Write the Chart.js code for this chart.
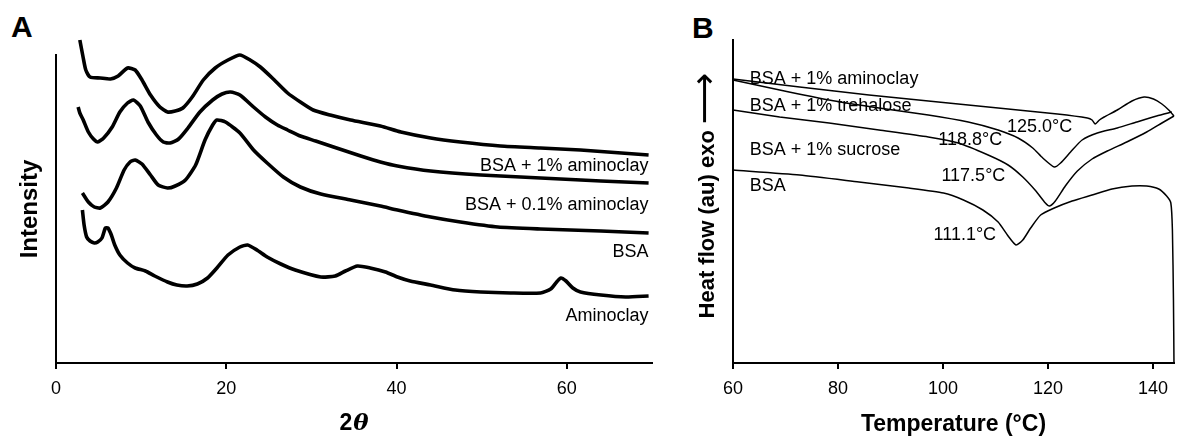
<!DOCTYPE html>
<html>
<head>
<meta charset="utf-8">
<script src="https://cdn.jsdelivr.net/npm/chart.js@4.4.1/dist/chart.umd.min.js"></script>
<style>
  body { margin: 0; background: #fff; width: 1177px; height: 436px; position: relative; overflow: hidden; }
  .panel { position: absolute; top: 0; height: 436px; }
  .tag { position: absolute; font: bold 30px "Liberation Sans", Arial, sans-serif; line-height: 30px; color: #000; }
</style>
</head>
<body>
<div class="tag" style="left:11px; top:12px;">A</div>
<div class="tag" style="left:692px; top:13px;">B</div>
<div class="panel" style="left:0; width:665px;"><canvas id="xrdChart"></canvas></div>
<div class="panel" style="left:680px; width:497px;"><canvas id="dscChart"></canvas></div>
<script>
// Panel A - XRD patterns, [2theta, intensity (au)]
const xrdAmino1 = [[2.8,323],[3.2,305],[3.5,293],[4.0,286],[5.2,285],[6.4,284],[7.3,287],[8.4,295],[9.3,293],[10.1,283],[11.1,268],[12.2,256],[13.1,251],[14.0,252],[14.9,255],[16.0,266],[17.3,283],[18.7,295],[20.2,303],[21.6,308],[22.8,303],[24.0,296],[25.4,285],[27.2,270],[28.7,261],[30.2,253],[32.2,248],[34.6,243],[38.1,237],[40.5,231],[44.0,225],[47.5,221],[52.2,217],[56.9,215],[61.6,213],[66.4,210],[69.6,208]];
const xrdAmino01 = [[2.6,256],[2.8,250],[3.2,243],[3.8,231],[4.4,224],[4.9,221],[5.6,225],[6.6,236],[7.5,251],[8.4,260],[9.1,263],[9.9,257],[10.8,241],[11.8,228],[12.6,221],[13.4,220],[14.4,224],[15.5,235],[16.9,251],[18.4,263],[19.5,269],[20.5,271],[21.6,268],[23.2,256],[24.6,246],[26.0,238],[27.2,233],[28.7,227],[30.5,222],[32.6,216],[35.8,207],[38.1,201],[40.1,197],[44.0,192],[49.9,188],[56.9,185],[64.0,182],[69.6,180]];
const xrdBsa = [[3.1,170],[3.8,161],[4.5,156],[5.2,155],[6.1,161],[7.1,175],[8.0,193],[8.7,201],[9.3,203],[10.1,199],[11.1,188],[12.0,178],[13.1,175],[14.0,177],[15.2,183],[16.4,198],[17.5,223],[18.4,238],[18.9,243],[19.9,241],[21.6,230],[23.2,213],[24.8,200],[26.7,186],[28.7,176],[31.1,169],[34.6,163],[38.1,157],[40.1,153],[44.0,146],[47.5,141],[51.9,136],[56.9,134],[64.0,132],[69.6,130]];
const xrdAminoclay = [[3.1,153],[3.3,138],[3.6,126],[4.0,122],[4.5,120],[4.9,121],[5.4,125],[5.8,135],[6.1,135],[6.5,128],[6.9,118],[7.5,108],[8.4,100],[9.3,95],[10.5,92],[11.6,87],[13.1,81],[14.2,78],[15.4,77],[16.6,79],[17.8,85],[18.9,95],[20.2,108],[21.6,116],[22.5,118],[23.6,113],[24.8,106],[26.4,99],[28.1,93],[31.1,86],[32.8,87],[34.0,92],[35.4,97],[36.9,95],[38.7,91],[40.1,86],[41.6,82],[44.0,78],[46.9,73],[49.9,71],[53.4,70],[56.9,70],[58.1,74],[58.8,81],[59.3,85],[59.9,82],[60.7,75],[61.6,71],[64.0,68],[66.9,66],[69.6,67]];
const xrdNames = ['BSA + 1% aminoclay', 'BSA + 0.1% aminoclay', 'BSA', 'Aminoclay'];
const xrdTicks = [0, 20, 40, 60];

// Panel B - DSC thermograms, [temperature (C), heat flow (au)]
const dscAminoclay = [[60,284],[72.7,276],[85.9,268],[99.1,261],[112.4,254],[121.8,249],[127.5,245],[128.4,243],[129.0,239],[129.8,243],[130.7,246],[133.2,253],[136.0,262],[138.3,266],[140.1,264],[141.7,259],[143.0,253],[144.0,247]];
const dscTrehalose = [[60,283],[68.9,273],[78.3,263],[87.8,255],[97.2,248],[104.8,241],[110.5,233],[114.3,225],[117.1,215],[119.0,205],[121.2,196],[122.4,200],[124.3,211],[126.5,223],[129.4,230],[133.2,235],[136.9,241],[140.7,247],[143.6,251]];
const dscSucrose = [[60,253],[68.9,246],[78.3,240],[87.8,233],[97.2,226],[102.9,220],[108.6,208],[112.4,198],[115.2,186],[117.7,172],[119.5,160],[120.3,157],[121.4,162],[123.3,177],[125.6,192],[128.4,204],[131.3,212],[135.0,221],[138.8,231],[141.7,240],[144.0,247]];
const dscBsa = [[60,193],[72.7,188],[84.0,181],[93.5,175],[100.1,170],[103.9,163],[107.6,153],[110.5,141],[112.4,127],[113.9,118],[115.2,123],[116.7,135],[118.6,148],[121.2,155],[124.6,162],[128.4,168],[132.2,174],[136.0,177],[138.8,177],[141.1,174],[142.6,167],[143.4,160],[143.7,133],[143.9,63],[144.0,0]];
const dscNames = ['BSA + 1% aminoclay', 'BSA + 1% trehalose', 'BSA + 1% sucrose', 'BSA'];
const dscPeaks = ['125.0°C', '118.8°C', '117.5°C', '111.1°C'];
const dscTicks = [60, 80, 100, 120, 140];

const FONT = '"Liberation Sans", Arial, sans-serif';
const toXY = arr => arr.map(p => ({ x: p[0], y: p[1] }));

// draws the text labels next to the curves, in data coordinates
const curveLabels = {
    id: 'curveLabels',
    afterDatasetsDraw(chart, args, opts) {
        const { ctx, scales: { x, y } } = chart;
        ctx.save();
        ctx.font = '18px ' + FONT;
        ctx.fillStyle = '#000';
        ctx.textBaseline = 'middle';
        opts.items.forEach(it => {
            ctx.textAlign = it.align;
            ctx.fillText(it.text, x.getPixelForValue(it.x), y.getPixelForValue(it.y));
        });
        ctx.restore();
    }
};

// axis title made of pieces in different fonts (italic theta, long arrow)
const mixedTitle = {
    id: 'mixedTitle',
    afterDraw(chart, args, opts) {
        if (!opts.parts) return;
        const { ctx, chartArea } = chart;
        ctx.save();
        ctx.fillStyle = '#000';
        ctx.textBaseline = 'middle';
        ctx.textAlign = 'left';
        if (opts.axis === 'x') {
            ctx.translate((chartArea.left + chartArea.right) / 2, opts.offset);
        } else {
            ctx.translate(opts.offset, (chartArea.top + chartArea.bottom) / 2);
            ctx.rotate(-Math.PI / 2);
        }
        const widths = opts.parts.map(p => { ctx.font = p.font; return ctx.measureText(p.text).width; });
        const total = widths.reduce((a, b) => a + b, 0) + (opts.parts.length - 1) * opts.gap;
        let pos = -total / 2 + (opts.shift || 0);
        opts.parts.forEach((p, i) => {
            ctx.font = p.font;
            ctx.fillText(p.text, pos, p.dy || 0);
            pos += widths[i] + opts.gap;
        });
        ctx.restore();
    }
};

function lineSet(data, width) {
    return {
        data: toXY(data),
        borderColor: '#000',
        borderWidth: width,
        pointRadius: 0,
        tension: 0.2,
        fill: false,
        clip: false
    };
}

function axes(xMin, xMax, xTicks, yMax, xTitle, yTitle, yWidth, yTitleSize, yTitlePad) {
    return {
        x: {
            type: 'linear', min: xMin, max: xMax,
            afterFit: s => { s.height = 73; },
            afterBuildTicks: s => { s.ticks = xTicks.map(v => ({ value: v })); },
            ticks: { color: '#000', font: { size: 18, family: FONT }, padding: 9, maxRotation: 0 },
            grid: { drawOnChartArea: false, drawTicks: true, tickLength: 6, color: '#000', lineWidth: 2 },
            border: { color: '#000', width: 2 },
            title: { display: !!xTitle, text: xTitle, color: '#000',
                     font: { size: 23, weight: 'bold', family: FONT },
                     padding: { top: 0, bottom: -2 } }
        },
        y: {
            type: 'linear', min: 0, max: yMax,
            afterFit: s => { s.width = yWidth; },
            ticks: { display: false },
            grid: { display: false },
            border: { color: '#000', width: 2 },
            title: { display: !!yTitle, text: yTitle, color: '#000',
                     font: { size: yTitleSize, weight: 'bold', family: FONT },
                     padding: { top: yTitlePad, bottom: 0 } }
        }
    };
}

new Chart(document.getElementById('xrdChart'), {
    type: 'line',
    data: { datasets: [xrdAmino1, xrdAmino01, xrdBsa, xrdAminoclay].map(d => lineSet(d, 3.6)) },
    options: {
        responsive: true,
        maintainAspectRatio: false,
        animation: false,
        layout: { padding: { top: 55, right: 13, bottom: 0, left: 0 } },
        scales: axes(0, 70, xrdTicks, 308, '', 'Intensity', 56, 24, 16),
        plugins: {
            legend: { display: false },
            tooltip: { enabled: false },
            mixedTitle: {
                axis: 'x', offset: 424, gap: 1,
                parts: [
                    { text: '2', font: 'bold 23px ' + FONT },
                    { text: 'θ', font: 'italic bold 23px "DejaVu Serif", serif' }
                ]
            },
            curveLabels: {
                items: [
                    { text: xrdNames[0], x: 69.6, y: 197, align: 'right' },
                    { text: xrdNames[1], x: 69.6, y: 158, align: 'right' },
                    { text: xrdNames[2], x: 69.6, y: 111, align: 'right' },
                    { text: xrdNames[3], x: 69.6, y: 47, align: 'right' }
                ]
            }
        }
    },
    plugins: [curveLabels, mixedTitle]
});

new Chart(document.getElementById('dscChart'), {
    type: 'line',
    data: { datasets: [dscAminoclay, dscTrehalose, dscSucrose, dscBsa].map(d => lineSet(d, 1.5)) },
    options: {
        responsive: true,
        maintainAspectRatio: false,
        animation: false,
        layout: { padding: { top: 40, right: 0, bottom: 0, left: 0 } },
        scales: axes(60, 144, dscTicks, 323, 'Temperature (°C)', '', 53, 22, 15),
        plugins: {
            legend: { display: false },
            tooltip: { enabled: false },
            mixedTitle: {
                axis: 'y', offset: 28, gap: 6, shift: 6,
                parts: [
                    { text: 'Heat flow (au) exo', font: 'bold 22px ' + FONT },
                    { text: '⟶', font: '36px "DejaVu Sans", sans-serif', dy: -1 }
                ]
            },
            curveLabels: {
                items: [
                    { text: dscNames[0], x: 63.2, y: 284, align: 'left' },
                    { text: dscNames[1], x: 63.2, y: 257, align: 'left' },
                    { text: dscNames[2], x: 63.2, y: 213, align: 'left' },
                    { text: dscNames[3], x: 63.2, y: 177, align: 'left' },
                    { text: dscPeaks[0], x: 112.2, y: 236, align: 'left' },
                    { text: dscPeaks[1], x: 99.1, y: 223, align: 'left' },
                    { text: dscPeaks[2], x: 99.7, y: 187, align: 'left' },
                    { text: dscPeaks[3], x: 98.2, y: 128, align: 'left' }
                ]
            }
        }
    },
    plugins: [curveLabels, mixedTitle]
});
</script>
</body>
</html>
